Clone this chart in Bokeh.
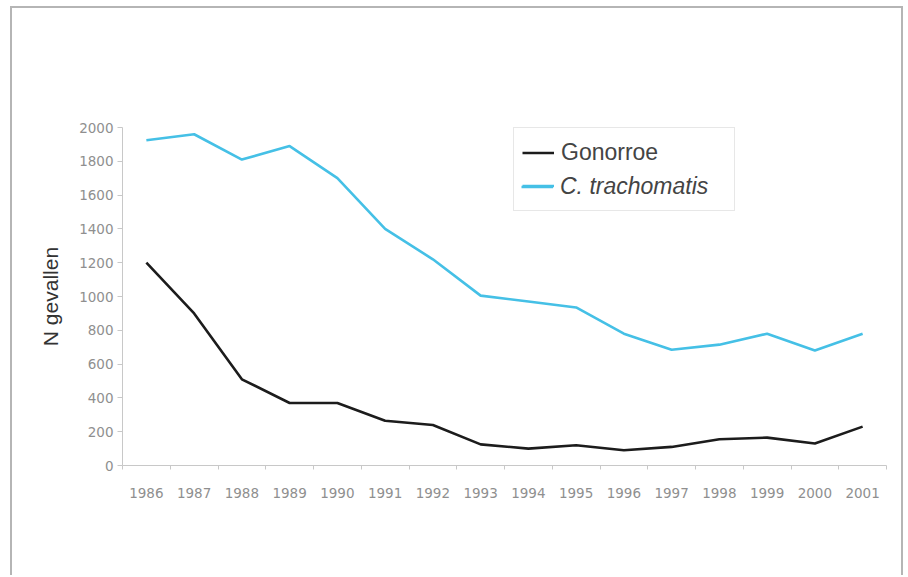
from bokeh.plotting import figure
from bokeh.models import Range1d, FixedTicker, Legend, LegendItem
from bokeh.embed import file_html
from bokeh.resources import INLINE

years = list(range(1986, 2002))
gonorroe = [1200, 900, 510, 370, 370, 265, 240, 125, 100, 120, 90, 110, 155, 165, 130, 230]
trachomatis = [1925, 1960, 1810, 1890, 1700, 1400, 1220, 1005, 970, 935, 780, 685, 715, 780, 680, 780]
y_ticks = list(range(0, 2001, 200))
series_names = ["Gonorroe", "C. trachomatis"]

p = figure(width=893, height=569, output_backend="svg", toolbar_location=None,
           x_range=Range1d(years[0] - 0.5, years[-1] + 0.5), y_range=Range1d(0, 2000),
           min_border_left=110, min_border_right=19, min_border_top=119, min_border_bottom=112)
p.styles = {"border-top": "2px solid #b5b5b5", "border-left": "2px solid #b5b5b5",
            "border-right": "2px solid #b5b5b5", "margin-left": "10px", "margin-top": "6px"}
p.xgrid.visible = False
p.ygrid.visible = False
p.outline_line_color = None

axis_color = "#c8c8c8"
tick_text = "#8f8f8f"

p.xaxis.ticker = FixedTicker(ticks=years, minor_ticks=[y - 0.5 for y in years] + [years[-1] + 0.5])
p.xaxis.major_tick_line_color = None
p.xaxis.major_tick_out = 0
p.xaxis.major_tick_in = 0
p.xaxis.minor_tick_out = 4
p.xaxis.minor_tick_in = 0
p.xaxis.minor_tick_line_color = axis_color
p.xaxis.axis_line_color = axis_color
p.xaxis.major_label_text_font = "DejaVu Sans"
p.xaxis.major_label_text_font_size = "13.5px"
p.xaxis.major_label_text_color = tick_text
p.xaxis.major_label_standoff = 18

p.yaxis.ticker = FixedTicker(ticks=y_ticks, minor_ticks=[])
p.yaxis.major_tick_out = 5
p.yaxis.major_tick_in = 0
p.yaxis.major_tick_line_color = axis_color
p.yaxis.axis_line_color = axis_color
p.yaxis.major_label_text_font = "DejaVu Sans"
p.yaxis.major_label_text_font_size = "13.5px"
p.yaxis.major_label_text_color = tick_text
p.yaxis.major_label_standoff = 4
p.yaxis.axis_label = "N gevallen"
p.yaxis.axis_label_text_font = "Liberation Sans"
p.yaxis.axis_label_text_font_style = "normal"
p.yaxis.axis_label_text_font_size = "21px"
p.yaxis.axis_label_text_color = "#333333"
p.yaxis.axis_label_standoff = 14

r1 = p.line(years, gonorroe, line_color="#1c1c1c", line_width=2.6)
r2 = p.line(years, trachomatis, line_color="#45c0e6", line_width=2.6)

pad = 8
common = dict(spacing=0, label_height=33, glyph_height=33,
              glyph_width=32, label_standoff=7, label_text_font="Liberation Sans",
              label_text_font_size="23px", label_text_color="#444444", margin=0)

legA = Legend(items=[LegendItem(label=series_names[0], renderers=[r1]),
                     LegendItem(label="\u00a0", renderers=[r2])],
              location=(391, 254), padding=pad,
              label_width=165, border_line_color="#cfcfcf", border_line_width=1.5,
              background_fill_color="white", **common)
legB = Legend(items=[LegendItem(label=series_names[1], renderers=[r2])],
              location=(391 + pad, 254 + pad), padding=0,
              border_line_color=None, background_fill_alpha=0,
              label_text_font_style="italic", **common)
p.add_layout(legA)
p.add_layout(legB)

open("out.html", "w").write(file_html(p, INLINE))
